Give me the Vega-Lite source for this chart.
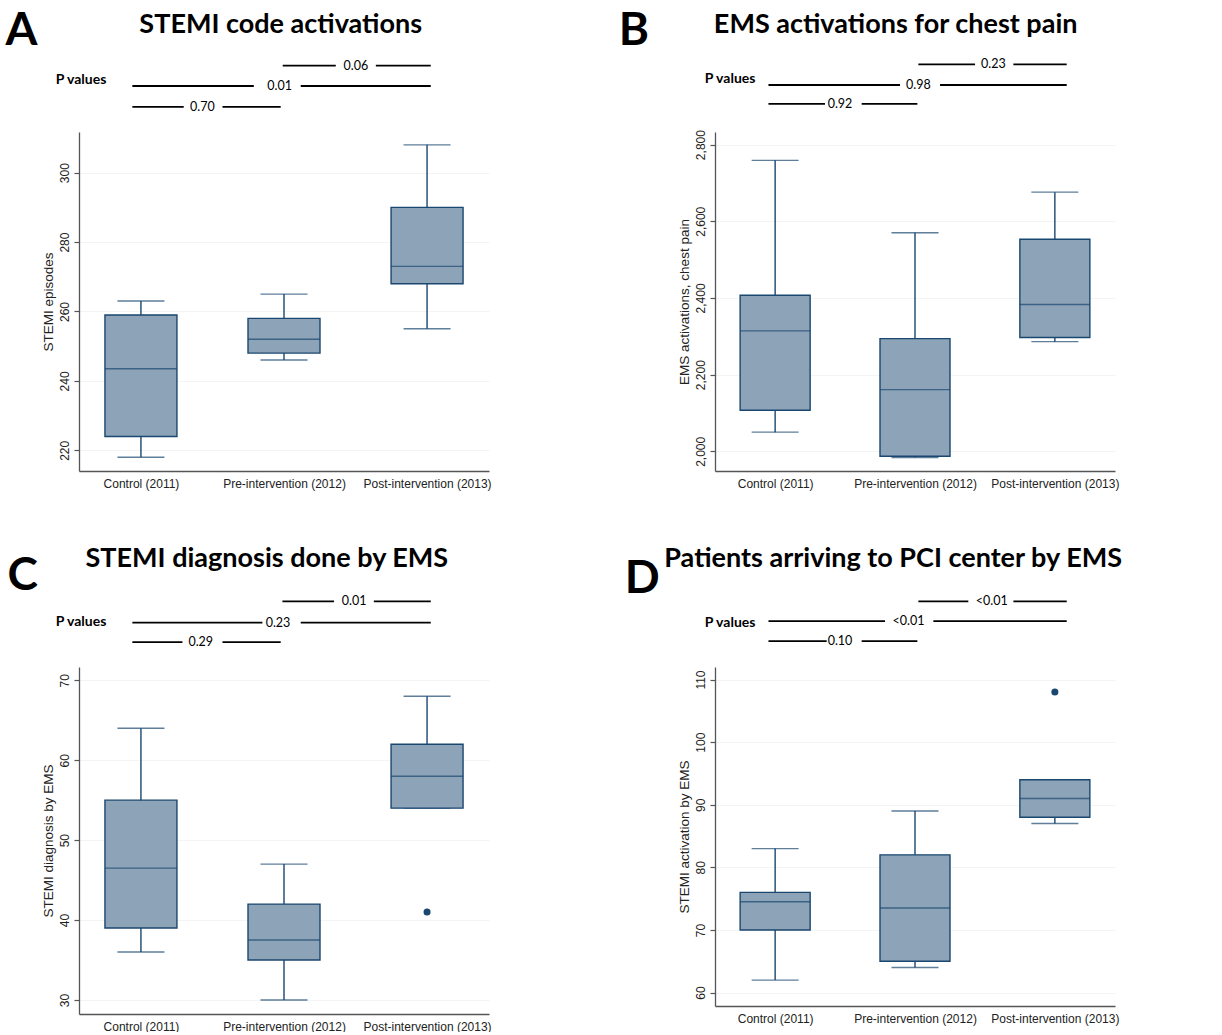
{
  "$schema": "https://vega.github.io/schema/vega-lite/v6.json",
  "background": "white",
  "padding": {"left": 5, "top": 0, "right": 0, "bottom": 0},
  "columns": 2,
  "spacing": {"row": 0, "column": 226},
  "bounds": "flush",
  "align": "each",
  "datasets": {
    "boxes": [
      {"panel": "A", "group": "Control (2011)", "lo": 218, "q1": 224, "med": 243.5, "q3": 259, "hi": 263},
      {"panel": "A", "group": "Pre-intervention (2012)", "lo": 246, "q1": 248, "med": 252, "q3": 258, "hi": 265},
      {"panel": "A", "group": "Post-intervention (2013)", "lo": 255, "q1": 268, "med": 273, "q3": 290, "hi": 308},
      {"panel": "B", "group": "Control (2011)", "lo": 2050, "q1": 2107, "med": 2314, "q3": 2407, "hi": 2759},
      {"panel": "B", "group": "Pre-intervention (2012)", "lo": 1984, "q1": 1987, "med": 2161, "q3": 2294, "hi": 2570},
      {"panel": "B", "group": "Post-intervention (2013)", "lo": 2286, "q1": 2297, "med": 2383, "q3": 2553, "hi": 2676},
      {"panel": "C", "group": "Control (2011)", "lo": 36, "q1": 39, "med": 46.5, "q3": 55, "hi": 64},
      {"panel": "C", "group": "Pre-intervention (2012)", "lo": 30, "q1": 35, "med": 37.5, "q3": 42, "hi": 47},
      {"panel": "C", "group": "Post-intervention (2013)", "lo": 54, "q1": 54, "med": 58, "q3": 62, "hi": 68},
      {"panel": "D", "group": "Control (2011)", "lo": 62, "q1": 70, "med": 74.5, "q3": 76, "hi": 83},
      {"panel": "D", "group": "Pre-intervention (2012)", "lo": 64, "q1": 65, "med": 73.5, "q3": 82, "hi": 89},
      {"panel": "D", "group": "Post-intervention (2013)", "lo": 87, "q1": 88, "med": 91, "q3": 94, "hi": 94}
    ],
    "outliers": [
      {"panel": "C", "group": "Post-intervention (2013)", "value": 41},
      {"panel": "D", "group": "Post-intervention (2013)", "value": 108}
    ],
    "hdr": [
      {"panel": "A", "kind": "seg", "y": 3.21, "x": 1.991, "x2": 2.362},
      {"panel": "A", "kind": "seg", "y": 3.21, "x": 2.642, "x2": 3.026},
      {"panel": "A", "kind": "seg", "y": 2.22, "x": 0.94, "x2": 1.789},
      {"panel": "A", "kind": "seg", "y": 2.22, "x": 2.117, "x2": 3.026},
      {"panel": "A", "kind": "seg", "y": 1.21, "x": 0.94, "x2": 1.299},
      {"panel": "A", "kind": "seg", "y": 1.21, "x": 1.57, "x2": 1.977},
      {"panel": "A", "kind": "p", "y": 3.21, "x": 2.502, "t": "0.06"},
      {"panel": "A", "kind": "p", "y": 2.22, "x": 1.97, "t": "0.01"},
      {"panel": "A", "kind": "p", "y": 1.21, "x": 1.43, "t": "0.70"},
      {"panel": "A", "kind": "letter", "y": 4.2, "x": 0.054, "t": "A"},
      {"panel": "A", "kind": "title", "y": 4.8, "x": 1.977, "t": "STEMI code activations"},
      {"panel": "A", "kind": "plabel", "y": 2.51, "x": 0.404, "t": "P values"},

      {"panel": "B", "kind": "seg", "y": 3.27, "x": 2.024, "x2": 2.429},
      {"panel": "B", "kind": "seg", "y": 3.27, "x": 2.703, "x2": 3.084},
      {"panel": "B", "kind": "seg", "y": 2.27, "x": 0.953, "x2": 1.893},
      {"panel": "B", "kind": "seg", "y": 2.27, "x": 2.179, "x2": 3.084},
      {"panel": "B", "kind": "seg", "y": 1.35, "x": 0.953, "x2": 1.357},
      {"panel": "B", "kind": "seg", "y": 1.35, "x": 1.619, "x2": 2.017},
      {"panel": "B", "kind": "p", "y": 3.27, "x": 2.56, "t": "0.23"},
      {"panel": "B", "kind": "p", "y": 2.27, "x": 2.024, "t": "0.98"},
      {"panel": "B", "kind": "p", "y": 1.35, "x": 1.464, "t": "0.92"},
      {"panel": "B", "kind": "letter", "y": 4.21, "x": -0.117, "t": "B"},
      {"panel": "B", "kind": "title", "y": 4.8, "x": 1.862, "t": "EMS activations for chest pain"},
      {"panel": "B", "kind": "plabel", "y": 2.56, "x": 0.498, "t": "P values"},

      {"panel": "C", "kind": "seg", "y": 3.19, "x": 1.989, "x2": 2.35},
      {"panel": "C", "kind": "seg", "y": 3.19, "x": 2.628, "x2": 3.026},
      {"panel": "C", "kind": "seg", "y": 2.16, "x": 0.94, "x2": 1.849},
      {"panel": "C", "kind": "seg", "y": 2.16, "x": 2.117, "x2": 3.026},
      {"panel": "C", "kind": "seg", "y": 1.21, "x": 0.94, "x2": 1.29},
      {"panel": "C", "kind": "seg", "y": 1.21, "x": 1.57, "x2": 1.977},
      {"panel": "C", "kind": "p", "y": 3.19, "x": 2.49, "t": "0.01"},
      {"panel": "C", "kind": "p", "y": 2.16, "x": 1.958, "t": "0.23"},
      {"panel": "C", "kind": "p", "y": 1.21, "x": 1.418, "t": "0.29"},
      {"panel": "C", "kind": "letter", "y": 3.73, "x": 0.068, "t": "C"},
      {"panel": "C", "kind": "title", "y": 4.86, "x": 1.88, "t": "STEMI diagnosis done by EMS"},
      {"panel": "C", "kind": "plabel", "y": 2.17, "x": 0.404, "t": "P values"},

      {"panel": "D", "kind": "seg", "y": 3.19, "x": 2.024, "x2": 2.381},
      {"panel": "D", "kind": "seg", "y": 3.19, "x": 2.703, "x2": 3.084},
      {"panel": "D", "kind": "seg", "y": 2.23, "x": 0.953, "x2": 1.786},
      {"panel": "D", "kind": "seg", "y": 2.23, "x": 2.131, "x2": 3.084},
      {"panel": "D", "kind": "seg", "y": 1.26, "x": 0.953, "x2": 1.369},
      {"panel": "D", "kind": "seg", "y": 1.26, "x": 1.619, "x2": 2.017},
      {"panel": "D", "kind": "p", "y": 3.19, "x": 2.548, "t": "<0.01"},
      {"panel": "D", "kind": "p", "y": 2.23, "x": 1.953, "t": "<0.01"},
      {"panel": "D", "kind": "p", "y": 1.26, "x": 1.464, "t": "0.10"},
      {"panel": "D", "kind": "letter", "y": 3.58, "x": -0.073, "t": "D"},
      {"panel": "D", "kind": "title", "y": 4.86, "x": 1.844, "t": "Patients arriving to PCI center by EMS"},
      {"panel": "D", "kind": "plabel", "y": 2.12, "x": 0.498, "t": "P values"}
    ]
  },
  "concat": [
    {
      "width": 410, "height": 131.7,
      "data": {"name": "hdr"},
      "transform": [{"filter": "datum.panel === 'A'"}],
      "encoding": {
        "x": {"field": "x", "type": "quantitative", "scale": {"domain": [0.567, 3.433], "nice": false, "zero": false}, "axis": null},
        "y": {"field": "y", "type": "quantitative", "scale": {"domain": [0, 6.4], "nice": false, "zero": false}, "axis": null}
      },
      "layer": [
        {"transform": [{"filter": "datum.kind === 'seg'"}], "mark": {"type": "rule", "color": "#000000", "strokeWidth": 1.8}, "encoding": {"x2": {"field": "x2"}}},
        {"transform": [{"filter": "datum.kind === 'p'"}], "mark": {"type": "text", "font": "Lato", "fontSize": 12.5, "align": "center", "baseline": "middle", "color": "#000000"}, "encoding": {"text": {"field": "t"}}},
        {"transform": [{"filter": "datum.kind === 'letter'"}], "mark": {"type": "text", "font": "Lato", "fontSize": 46, "fontWeight": "bold", "align": "left", "baseline": "alphabetic", "color": "#000000"}, "encoding": {"text": {"field": "t"}}},
        {"transform": [{"filter": "datum.kind === 'title'"}], "mark": {"type": "text", "font": "Lato", "fontSize": 27, "fontWeight": "bold", "align": "center", "baseline": "alphabetic", "color": "#000000"}, "encoding": {"text": {"field": "t"}}},
        {"transform": [{"filter": "datum.kind === 'plabel'"}], "mark": {"type": "text", "font": "Lato", "fontSize": 14, "fontWeight": "bold", "align": "left", "baseline": "middle", "color": "#000000"}, "encoding": {"text": {"field": "t"}}}
      ]
    },
    {
      "width": 400, "height": 131.7,
      "data": {"name": "hdr"},
      "transform": [{"filter": "datum.panel === 'B'"}],
      "encoding": {
        "x": {"field": "x", "type": "quantitative", "scale": {"domain": [0.571, 3.429], "nice": false, "zero": false}, "axis": null},
        "y": {"field": "y", "type": "quantitative", "scale": {"domain": [0, 6.4], "nice": false, "zero": false}, "axis": null}
      },
      "layer": [
        {"transform": [{"filter": "datum.kind === 'seg'"}], "mark": {"type": "rule", "color": "#000000", "strokeWidth": 1.8}, "encoding": {"x2": {"field": "x2"}}},
        {"transform": [{"filter": "datum.kind === 'p'"}], "mark": {"type": "text", "font": "Lato", "fontSize": 12.5, "align": "center", "baseline": "middle", "color": "#000000"}, "encoding": {"text": {"field": "t"}}},
        {"transform": [{"filter": "datum.kind === 'letter'"}], "mark": {"type": "text", "font": "Lato", "fontSize": 46, "fontWeight": "bold", "align": "left", "baseline": "alphabetic", "color": "#000000"}, "encoding": {"text": {"field": "t"}}},
        {"transform": [{"filter": "datum.kind === 'title'"}], "mark": {"type": "text", "font": "Lato", "fontSize": 27, "fontWeight": "bold", "align": "center", "baseline": "alphabetic", "color": "#000000"}, "encoding": {"text": {"field": "t"}}},
        {"transform": [{"filter": "datum.kind === 'plabel'"}], "mark": {"type": "text", "font": "Lato", "fontSize": 14, "fontWeight": "bold", "align": "left", "baseline": "middle", "color": "#000000"}, "encoding": {"text": {"field": "t"}}}
      ]
    },
    {
      "width": 410, "height": 339,
      "data": {"name": "boxes"},
      "transform": [{"filter": "datum.panel === 'A'"}],
      "encoding": {
        "x": {"field": "group", "type": "nominal", "sort": null, "scale": {"type": "point", "padding": 0.433, "domain": ["Control (2011)", "Pre-intervention (2012)", "Post-intervention (2013)"]}, "axis": {"title": null}}
      },
      "layer": [
        {"mark": {"type": "rule", "color": "#1a476f", "strokeWidth": 1.4}, "encoding": {"y": {"field": "lo", "type": "quantitative", "scale": {"domain": [214.04, 311.7], "nice": false, "zero": false}, "axis": {"title": "STEMI episodes", "values": [220, 240, 260, 280, 300]}}, "y2": {"field": "hi"}}},
        {"mark": {"type": "tick", "size": 47, "thickness": 1.4, "color": "#1a476f"}, "encoding": {"y": {"field": "lo", "type": "quantitative", "scale": {"domain": [214.04, 311.7], "nice": false, "zero": false}, "axis": {"title": "STEMI episodes", "values": [220, 240, 260, 280, 300]}}}},
        {"mark": {"type": "tick", "size": 47, "thickness": 1.4, "color": "#1a476f"}, "encoding": {"y": {"field": "hi", "type": "quantitative", "scale": {"domain": [214.04, 311.7], "nice": false, "zero": false}, "axis": {"title": "STEMI episodes", "values": [220, 240, 260, 280, 300]}}}},
        {"mark": {"type": "bar", "width": 72, "fill": "#8da3b7", "stroke": "#1a476f", "strokeWidth": 1.4}, "encoding": {"y": {"field": "q1", "type": "quantitative", "scale": {"domain": [214.04, 311.7], "nice": false, "zero": false}, "axis": {"title": "STEMI episodes", "values": [220, 240, 260, 280, 300]}}, "y2": {"field": "q3"}}},
        {"mark": {"type": "tick", "size": 72, "thickness": 1.4, "color": "#1a476f"}, "encoding": {"y": {"field": "med", "type": "quantitative", "scale": {"domain": [214.04, 311.7], "nice": false, "zero": false}, "axis": {"title": "STEMI episodes", "values": [220, 240, 260, 280, 300]}}}}
      ]
    },
    {
      "width": 400, "height": 339,
      "data": {"name": "boxes"},
      "transform": [{"filter": "datum.panel === 'B'"}],
      "encoding": {
        "x": {"field": "group", "type": "nominal", "sort": null, "scale": {"type": "point", "padding": 0.43, "domain": ["Control (2011)", "Pre-intervention (2012)", "Post-intervention (2013)"]}, "axis": {"title": null}}
      },
      "layer": [
        {"mark": {"type": "rule", "color": "#1a476f", "strokeWidth": 1.4}, "encoding": {"y": {"field": "lo", "type": "quantitative", "scale": {"domain": [1948.6, 2832.9], "nice": false, "zero": false}, "axis": {"title": "EMS activations, chest pain", "values": [2000, 2200, 2400, 2600, 2800], "format": ",d"}}, "y2": {"field": "hi"}}},
        {"mark": {"type": "tick", "size": 47, "thickness": 1.4, "color": "#1a476f"}, "encoding": {"y": {"field": "lo", "type": "quantitative", "scale": {"domain": [1948.6, 2832.9], "nice": false, "zero": false}, "axis": {"title": "EMS activations, chest pain", "values": [2000, 2200, 2400, 2600, 2800], "format": ",d"}}}},
        {"mark": {"type": "tick", "size": 47, "thickness": 1.4, "color": "#1a476f"}, "encoding": {"y": {"field": "hi", "type": "quantitative", "scale": {"domain": [1948.6, 2832.9], "nice": false, "zero": false}, "axis": {"title": "EMS activations, chest pain", "values": [2000, 2200, 2400, 2600, 2800], "format": ",d"}}}},
        {"mark": {"type": "bar", "width": 70, "fill": "#8da3b7", "stroke": "#1a476f", "strokeWidth": 1.4}, "encoding": {"y": {"field": "q1", "type": "quantitative", "scale": {"domain": [1948.6, 2832.9], "nice": false, "zero": false}, "axis": {"title": "EMS activations, chest pain", "values": [2000, 2200, 2400, 2600, 2800], "format": ",d"}}, "y2": {"field": "q3"}}},
        {"mark": {"type": "tick", "size": 70, "thickness": 1.4, "color": "#1a476f"}, "encoding": {"y": {"field": "med", "type": "quantitative", "scale": {"domain": [1948.6, 2832.9], "nice": false, "zero": false}, "axis": {"title": "EMS activations, chest pain", "values": [2000, 2200, 2400, 2600, 2800], "format": ",d"}}}}
      ]
    },
    {
      "width": 410, "height": 196,
      "data": {"name": "hdr"},
      "transform": [{"filter": "datum.panel === 'C'"}],
      "encoding": {
        "x": {"field": "x", "type": "quantitative", "scale": {"domain": [0.567, 3.433], "nice": false, "zero": false}, "axis": null},
        "y": {"field": "y", "type": "quantitative", "scale": {"domain": [0, 9.524], "nice": false, "zero": false}, "axis": null}
      },
      "layer": [
        {"transform": [{"filter": "datum.kind === 'seg'"}], "mark": {"type": "rule", "color": "#000000", "strokeWidth": 1.8}, "encoding": {"x2": {"field": "x2"}}},
        {"transform": [{"filter": "datum.kind === 'p'"}], "mark": {"type": "text", "font": "Lato", "fontSize": 12.5, "align": "center", "baseline": "middle", "color": "#000000"}, "encoding": {"text": {"field": "t"}}},
        {"transform": [{"filter": "datum.kind === 'letter'"}], "mark": {"type": "text", "font": "Lato", "fontSize": 46, "fontWeight": "bold", "align": "left", "baseline": "alphabetic", "color": "#000000"}, "encoding": {"text": {"field": "t"}}},
        {"transform": [{"filter": "datum.kind === 'title'"}], "mark": {"type": "text", "font": "Lato", "fontSize": 27, "fontWeight": "bold", "align": "center", "baseline": "alphabetic", "color": "#000000"}, "encoding": {"text": {"field": "t"}}},
        {"transform": [{"filter": "datum.kind === 'plabel'"}], "mark": {"type": "text", "font": "Lato", "fontSize": 14, "fontWeight": "bold", "align": "left", "baseline": "middle", "color": "#000000"}, "encoding": {"text": {"field": "t"}}}
      ]
    },
    {
      "width": 400, "height": 196,
      "data": {"name": "hdr"},
      "transform": [{"filter": "datum.panel === 'D'"}],
      "encoding": {
        "x": {"field": "x", "type": "quantitative", "scale": {"domain": [0.571, 3.429], "nice": false, "zero": false}, "axis": null},
        "y": {"field": "y", "type": "quantitative", "scale": {"domain": [0, 9.524], "nice": false, "zero": false}, "axis": null}
      },
      "layer": [
        {"transform": [{"filter": "datum.kind === 'seg'"}], "mark": {"type": "rule", "color": "#000000", "strokeWidth": 1.8}, "encoding": {"x2": {"field": "x2"}}},
        {"transform": [{"filter": "datum.kind === 'p'"}], "mark": {"type": "text", "font": "Lato", "fontSize": 12.5, "align": "center", "baseline": "middle", "color": "#000000"}, "encoding": {"text": {"field": "t"}}},
        {"transform": [{"filter": "datum.kind === 'letter'"}], "mark": {"type": "text", "font": "Lato", "fontSize": 46, "fontWeight": "bold", "align": "left", "baseline": "alphabetic", "color": "#000000"}, "encoding": {"text": {"field": "t"}}},
        {"transform": [{"filter": "datum.kind === 'title'"}], "mark": {"type": "text", "font": "Lato", "fontSize": 27, "fontWeight": "bold", "align": "center", "baseline": "alphabetic", "color": "#000000"}, "encoding": {"text": {"field": "t"}}},
        {"transform": [{"filter": "datum.kind === 'plabel'"}], "mark": {"type": "text", "font": "Lato", "fontSize": 14, "fontWeight": "bold", "align": "left", "baseline": "middle", "color": "#000000"}, "encoding": {"text": {"field": "t"}}}
      ]
    },
    {
      "width": 410, "height": 347,
      "data": {"name": "boxes"},
      "transform": [{"filter": "datum.panel === 'C'"}],
      "encoding": {
        "x": {"field": "group", "type": "nominal", "sort": null, "scale": {"type": "point", "padding": 0.433, "domain": ["Control (2011)", "Pre-intervention (2012)", "Post-intervention (2013)"]}, "axis": {"title": null}}
      },
      "layer": [
        {"mark": {"type": "rule", "color": "#1a476f", "strokeWidth": 1.4}, "encoding": {"y": {"field": "lo", "type": "quantitative", "scale": {"domain": [28.25, 71.66], "nice": false, "zero": false}, "axis": {"title": "STEMI diagnosis by EMS", "values": [30, 40, 50, 60, 70]}}, "y2": {"field": "hi"}}},
        {"mark": {"type": "tick", "size": 47, "thickness": 1.4, "color": "#1a476f"}, "encoding": {"y": {"field": "lo", "type": "quantitative", "scale": {"domain": [28.25, 71.66], "nice": false, "zero": false}, "axis": {"title": "STEMI diagnosis by EMS", "values": [30, 40, 50, 60, 70]}}}},
        {"mark": {"type": "tick", "size": 47, "thickness": 1.4, "color": "#1a476f"}, "encoding": {"y": {"field": "hi", "type": "quantitative", "scale": {"domain": [28.25, 71.66], "nice": false, "zero": false}, "axis": {"title": "STEMI diagnosis by EMS", "values": [30, 40, 50, 60, 70]}}}},
        {"mark": {"type": "bar", "width": 72, "fill": "#8da3b7", "stroke": "#1a476f", "strokeWidth": 1.4}, "encoding": {"y": {"field": "q1", "type": "quantitative", "scale": {"domain": [28.25, 71.66], "nice": false, "zero": false}, "axis": {"title": "STEMI diagnosis by EMS", "values": [30, 40, 50, 60, 70]}}, "y2": {"field": "q3"}}},
        {"mark": {"type": "tick", "size": 72, "thickness": 1.4, "color": "#1a476f"}, "encoding": {"y": {"field": "med", "type": "quantitative", "scale": {"domain": [28.25, 71.66], "nice": false, "zero": false}, "axis": {"title": "STEMI diagnosis by EMS", "values": [30, 40, 50, 60, 70]}}}},
        {"data": {"name": "outliers"}, "transform": [{"filter": "datum.panel === 'C'"}], "mark": {"type": "point", "filled": true, "size": 50, "color": "#1a476f", "opacity": 1}, "encoding": {"y": {"field": "value", "type": "quantitative", "scale": {"domain": [28.25, 71.66], "nice": false, "zero": false}, "axis": {"title": "STEMI diagnosis by EMS", "values": [30, 40, 50, 60, 70]}}}}
      ]
    },
    {
      "width": 400, "height": 339,
      "data": {"name": "boxes"},
      "transform": [{"filter": "datum.panel === 'D'"}],
      "encoding": {
        "x": {"field": "group", "type": "nominal", "sort": null, "scale": {"type": "point", "padding": 0.43, "domain": ["Control (2011)", "Pre-intervention (2012)", "Post-intervention (2013)"]}, "axis": {"title": null}}
      },
      "layer": [
        {"mark": {"type": "rule", "color": "#1a476f", "strokeWidth": 1.4}, "encoding": {"y": {"field": "lo", "type": "quantitative", "scale": {"domain": [57.86, 112.0], "nice": false, "zero": false}, "axis": {"title": "STEMI activation by EMS", "values": [60, 70, 80, 90, 100, 110]}}, "y2": {"field": "hi"}}},
        {"mark": {"type": "tick", "size": 47, "thickness": 1.4, "color": "#1a476f"}, "encoding": {"y": {"field": "lo", "type": "quantitative", "scale": {"domain": [57.86, 112.0], "nice": false, "zero": false}, "axis": {"title": "STEMI activation by EMS", "values": [60, 70, 80, 90, 100, 110]}}}},
        {"mark": {"type": "tick", "size": 47, "thickness": 1.4, "color": "#1a476f"}, "encoding": {"y": {"field": "hi", "type": "quantitative", "scale": {"domain": [57.86, 112.0], "nice": false, "zero": false}, "axis": {"title": "STEMI activation by EMS", "values": [60, 70, 80, 90, 100, 110]}}}},
        {"mark": {"type": "bar", "width": 70, "fill": "#8da3b7", "stroke": "#1a476f", "strokeWidth": 1.4}, "encoding": {"y": {"field": "q1", "type": "quantitative", "scale": {"domain": [57.86, 112.0], "nice": false, "zero": false}, "axis": {"title": "STEMI activation by EMS", "values": [60, 70, 80, 90, 100, 110]}}, "y2": {"field": "q3"}}},
        {"mark": {"type": "tick", "size": 70, "thickness": 1.4, "color": "#1a476f"}, "encoding": {"y": {"field": "med", "type": "quantitative", "scale": {"domain": [57.86, 112.0], "nice": false, "zero": false}, "axis": {"title": "STEMI activation by EMS", "values": [60, 70, 80, 90, 100, 110]}}}},
        {"data": {"name": "outliers"}, "transform": [{"filter": "datum.panel === 'D'"}], "mark": {"type": "point", "filled": true, "size": 50, "color": "#1a476f", "opacity": 1}, "encoding": {"y": {"field": "value", "type": "quantitative", "scale": {"domain": [57.86, 112.0], "nice": false, "zero": false}, "axis": {"title": "STEMI activation by EMS", "values": [60, 70, 80, 90, 100, 110]}}}}
      ]
    }
  ],
  "config": {
    "view": {"stroke": null},
    "font": "Liberation Sans",
    "axis": {
      "domainColor": "#555555", "domainWidth": 1.3, "tickColor": "#555555", "tickWidth": 1.2,
      "labelFont": "Liberation Sans", "labelFontSize": 12, "labelColor": "#222222",
      "titleFont": "Liberation Sans", "titleColor": "#222222"
    },
    "axisY": {
      "labelAngle": 270, "labelAlign": "center", "labelBaseline": "bottom",
      "tickSize": 5, "labelPadding": 3, "titlePadding": 3,
      "titleFontSize": 13.5, "titleFontWeight": "normal",
      "grid": true, "gridColor": "#f4f4f4", "gridWidth": 1
    },
    "axisX": {
      "ticks": false, "tickSize": 0, "labelPadding": 7, "labelAngle": 0, "grid": false
    }
  }
}
